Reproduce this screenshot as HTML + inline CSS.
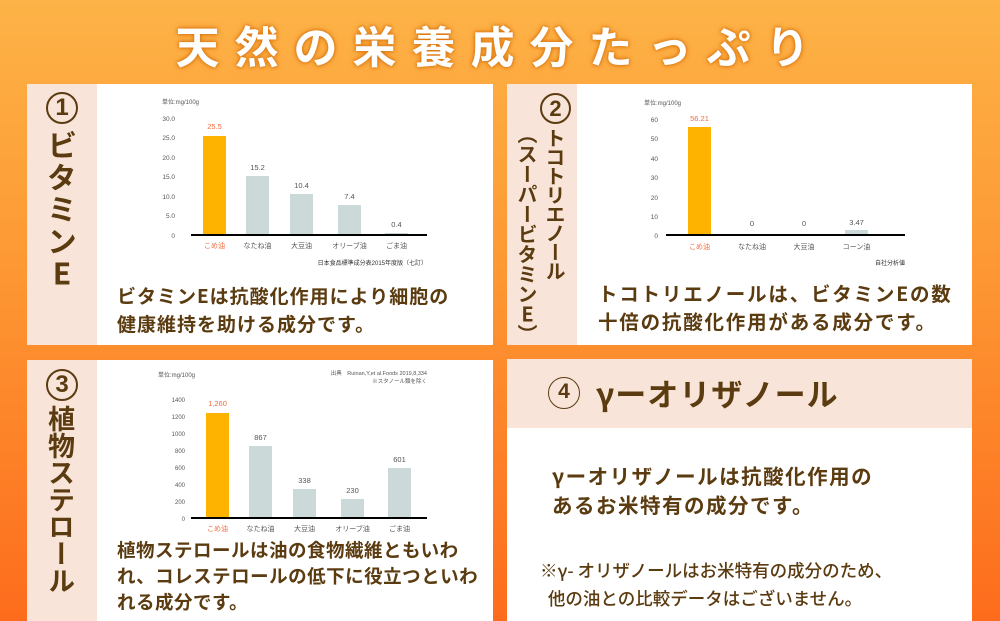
<!DOCTYPE html>
<html><head><meta charset="utf-8"><style>
html,body{margin:0;padding:0;}
body{width:1000px;height:621px;position:relative;overflow:hidden;font-family:"Liberation Sans","Noto Sans CJK JP",sans-serif;background:linear-gradient(#fdb347,#fd9a35 40%,#fd6c1c);}
.abs{position:absolute;}
.v{position:absolute;writing-mode:vertical-rl;text-orientation:upright;font-weight:700;color:#5b3b10;font-family:"Noto Sans CJK JP",sans-serif;line-height:1;white-space:nowrap;}
.t{position:absolute;color:#5b3b10;font-weight:700;font-family:"Noto Sans CJK JP",sans-serif;white-space:nowrap;}
.c{position:absolute;border:2px solid #5b3b10;border-radius:50%;color:#5b3b10;font-weight:700;text-align:center;box-sizing:border-box;font-family:"Liberation Sans",sans-serif;}
</style></head><body>
<div class="abs" style="left:0;top:14px;width:1000px;text-align:center;color:#fff;font-weight:700;font-size:44px;letter-spacing:15px;font-family:'Noto Sans CJK JP',sans-serif;text-shadow:0 0 6px #e07a10,0 0 3px #c96a10;line-height:60px;">天然の栄養成分たっぷり</div>

<svg class="abs" style="left:0;top:0" width="1000" height="621" font-family="Liberation Sans, Noto Sans CJK JP, sans-serif">
<rect x="27" y="84" width="466" height="261" fill="#fff"/><rect x="27" y="84" width="70" height="261" fill="#f8e4d8"/>
<rect x="507" y="84" width="465" height="261" fill="#fff"/><rect x="507" y="84" width="70" height="261" fill="#f8e4d8"/>
<rect x="27" y="360" width="466" height="261" fill="#fff"/><rect x="27" y="360" width="70" height="261" fill="#f8e4d8"/>
<rect x="507" y="359" width="465" height="262" fill="#fff"/><rect x="507" y="359" width="465" height="69" fill="#f8e4d8"/>

<g font-size="6.5" fill="#555">
<text x="162" y="104" font-size="6">単位:mg/100g</text>
<g text-anchor="end"><text x="175" y="121">30.0</text><text x="175" y="140">25.0</text><text x="175" y="160">20.0</text><text x="175" y="179">15.0</text><text x="175" y="199">10.0</text><text x="175" y="218">5.0</text><text x="175" y="238">0</text></g>
<rect x="203" y="136" width="23" height="99" fill="#fdb300"/>
<rect x="246" y="176" width="23" height="59" fill="#ccd9d9"/>
<rect x="290" y="194" width="23" height="41" fill="#ccd9d9"/>
<rect x="338" y="205" width="23" height="30" fill="#ccd9d9"/>
<rect x="385" y="233" width="23" height="2" fill="#ccd9d9"/>
<line x1="191" y1="235" x2="427" y2="235" stroke="#000" stroke-width="2"/>
<g text-anchor="middle" font-size="7.5">
<text x="214.5" y="129" fill="#f26b3a">25.5</text><text x="257.5" y="170">15.2</text><text x="301.5" y="188">10.4</text><text x="349.5" y="199">7.4</text><text x="396.5" y="227">0.4</text>
<text x="214.5" y="248" fill="#f26b3a" font-size="7">こめ油</text><text x="257.5" y="248" font-size="7">なたね油</text><text x="301.5" y="248" font-size="7">大豆油</text><text x="349.5" y="248" font-size="7">オリーブ油</text><text x="396.5" y="248" font-size="7">ごま油</text>
</g>
<text x="427" y="265" text-anchor="end" font-size="6" fill="#333">日本食品標準成分表2015年度版（七訂）</text>
</g>

<g font-size="6.5" fill="#555">
<text x="644" y="105" font-size="6">単位:mg/100g</text>
<g text-anchor="end"><text x="658" y="122">60</text><text x="658" y="141">50</text><text x="658" y="161">40</text><text x="658" y="180">30</text><text x="658" y="200">20</text><text x="658" y="219">10</text><text x="658" y="238">0</text></g>
<rect x="688" y="127" width="23" height="108" fill="#fdb300"/>
<rect x="845" y="230" width="23" height="5" fill="#ccd9d9"/>
<line x1="666" y1="235" x2="905" y2="235" stroke="#000" stroke-width="2"/>
<g text-anchor="middle" font-size="7.5">
<text x="699.5" y="121" fill="#f26b3a">56.21</text><text x="752" y="226">0</text><text x="804" y="226">0</text><text x="856.5" y="225">3.47</text>
<text x="699.5" y="249" fill="#f26b3a" font-size="7">こめ油</text><text x="752" y="249" font-size="7">なたね油</text><text x="804" y="249" font-size="7">大豆油</text><text x="856.5" y="249" font-size="7">コーン油</text>
</g>
<text x="905" y="265" text-anchor="end" font-size="6" fill="#333">自社分析値</text>
</g>

<g font-size="6" fill="#555">
<text x="158" y="377">単位:mg/100g</text>
<text x="427" y="375" text-anchor="end" font-size="5.5">出典　Ruinan,Y,et al.Foods 2019,8,334</text>
<text x="427" y="383" text-anchor="end" font-size="5.5">※スタノール類を除く</text>
<g text-anchor="end"><text x="185" y="402">1400</text><text x="185" y="419">1200</text><text x="185" y="436">1000</text><text x="185" y="453">800</text><text x="185" y="470">600</text><text x="185" y="487">400</text><text x="185" y="504">200</text><text x="185" y="521">0</text></g>
<rect x="206" y="413" width="23" height="105" fill="#fdb300"/>
<rect x="249" y="446" width="23" height="72" fill="#ccd9d9"/>
<rect x="293" y="489" width="23" height="29" fill="#ccd9d9"/>
<rect x="341" y="499" width="23" height="19" fill="#ccd9d9"/>
<rect x="388" y="468" width="23" height="50" fill="#ccd9d9"/>
<line x1="191" y1="518" x2="427" y2="518" stroke="#000" stroke-width="2"/>
<g text-anchor="middle" font-size="7.5">
<text x="217.5" y="406" fill="#f26b3a">1,260</text><text x="260.5" y="440">867</text><text x="304.5" y="483">338</text><text x="352.5" y="493">230</text><text x="399.5" y="462">601</text>
<text x="217.5" y="531" fill="#f26b3a" font-size="7">こめ油</text><text x="260.5" y="531" font-size="7">なたね油</text><text x="304.5" y="531" font-size="7">大豆油</text><text x="352.5" y="531" font-size="7">オリーブ油</text><text x="399.5" y="531" font-size="7">ごま油</text>
</g>
</g>
</svg>

<div class="c" style="left:46px;top:92px;width:32px;height:32px;font-size:24px;line-height:28px;">1</div>
<div class="v" style="left:47px;top:130px;font-size:30px;letter-spacing:2px;">ビタミンE</div>

<div class="c" style="left:540px;top:93px;width:31px;height:31px;font-size:22px;line-height:27px;">2</div>
<div class="v" style="left:545px;top:128px;font-size:20px;letter-spacing:-1px;">トコトリエノール</div>
<div class="v" style="left:517px;top:124px;font-size:20px;letter-spacing:0px;">（スーパービタミンE）</div>

<div class="c" style="left:46px;top:369px;width:32px;height:32px;font-size:24px;line-height:28px;">3</div>
<div class="v" style="left:48px;top:405px;font-size:27px;letter-spacing:0px;">植物ステロール</div>

<div class="t" style="left:117px;top:282px;font-size:19px;line-height:28px;letter-spacing:1px;">ビタミンEは抗酸化作用により細胞の<br>健康維持を助ける成分です。</div>
<div class="t" style="left:598px;top:279px;font-size:19.5px;line-height:28px;letter-spacing:1.8px;">トコトリエノールは、ビタミンEの数<br>十倍の抗酸化作用がある成分です。</div>
<div class="t" style="left:117px;top:537px;font-size:18.5px;line-height:26px;letter-spacing:0.5px;">植物ステロールは油の食物繊維ともいわ<br>れ、コレステロールの低下に役立つといわ<br>れる成分です。</div>

<div class="c" style="left:548px;top:377px;width:32px;height:32px;font-size:21px;line-height:28px;border-width:1.5px;">4</div>
<div class="t" style="left:596px;top:373px;font-size:31px;line-height:40px;letter-spacing:1px;">γーオリザノール</div>
<div class="t" style="left:552px;top:461px;font-size:20.5px;line-height:29px;letter-spacing:1.5px;">γーオリザノールは抗酸化作用の<br>あるお米特有の成分です。</div>
<div class="t" style="left:540px;top:557px;font-size:17.5px;line-height:28px;font-weight:500;">※γ- オリザノールはお米特有の成分のため、<br>&nbsp;&nbsp;他の油との比較データはございません。</div>
</body></html>
